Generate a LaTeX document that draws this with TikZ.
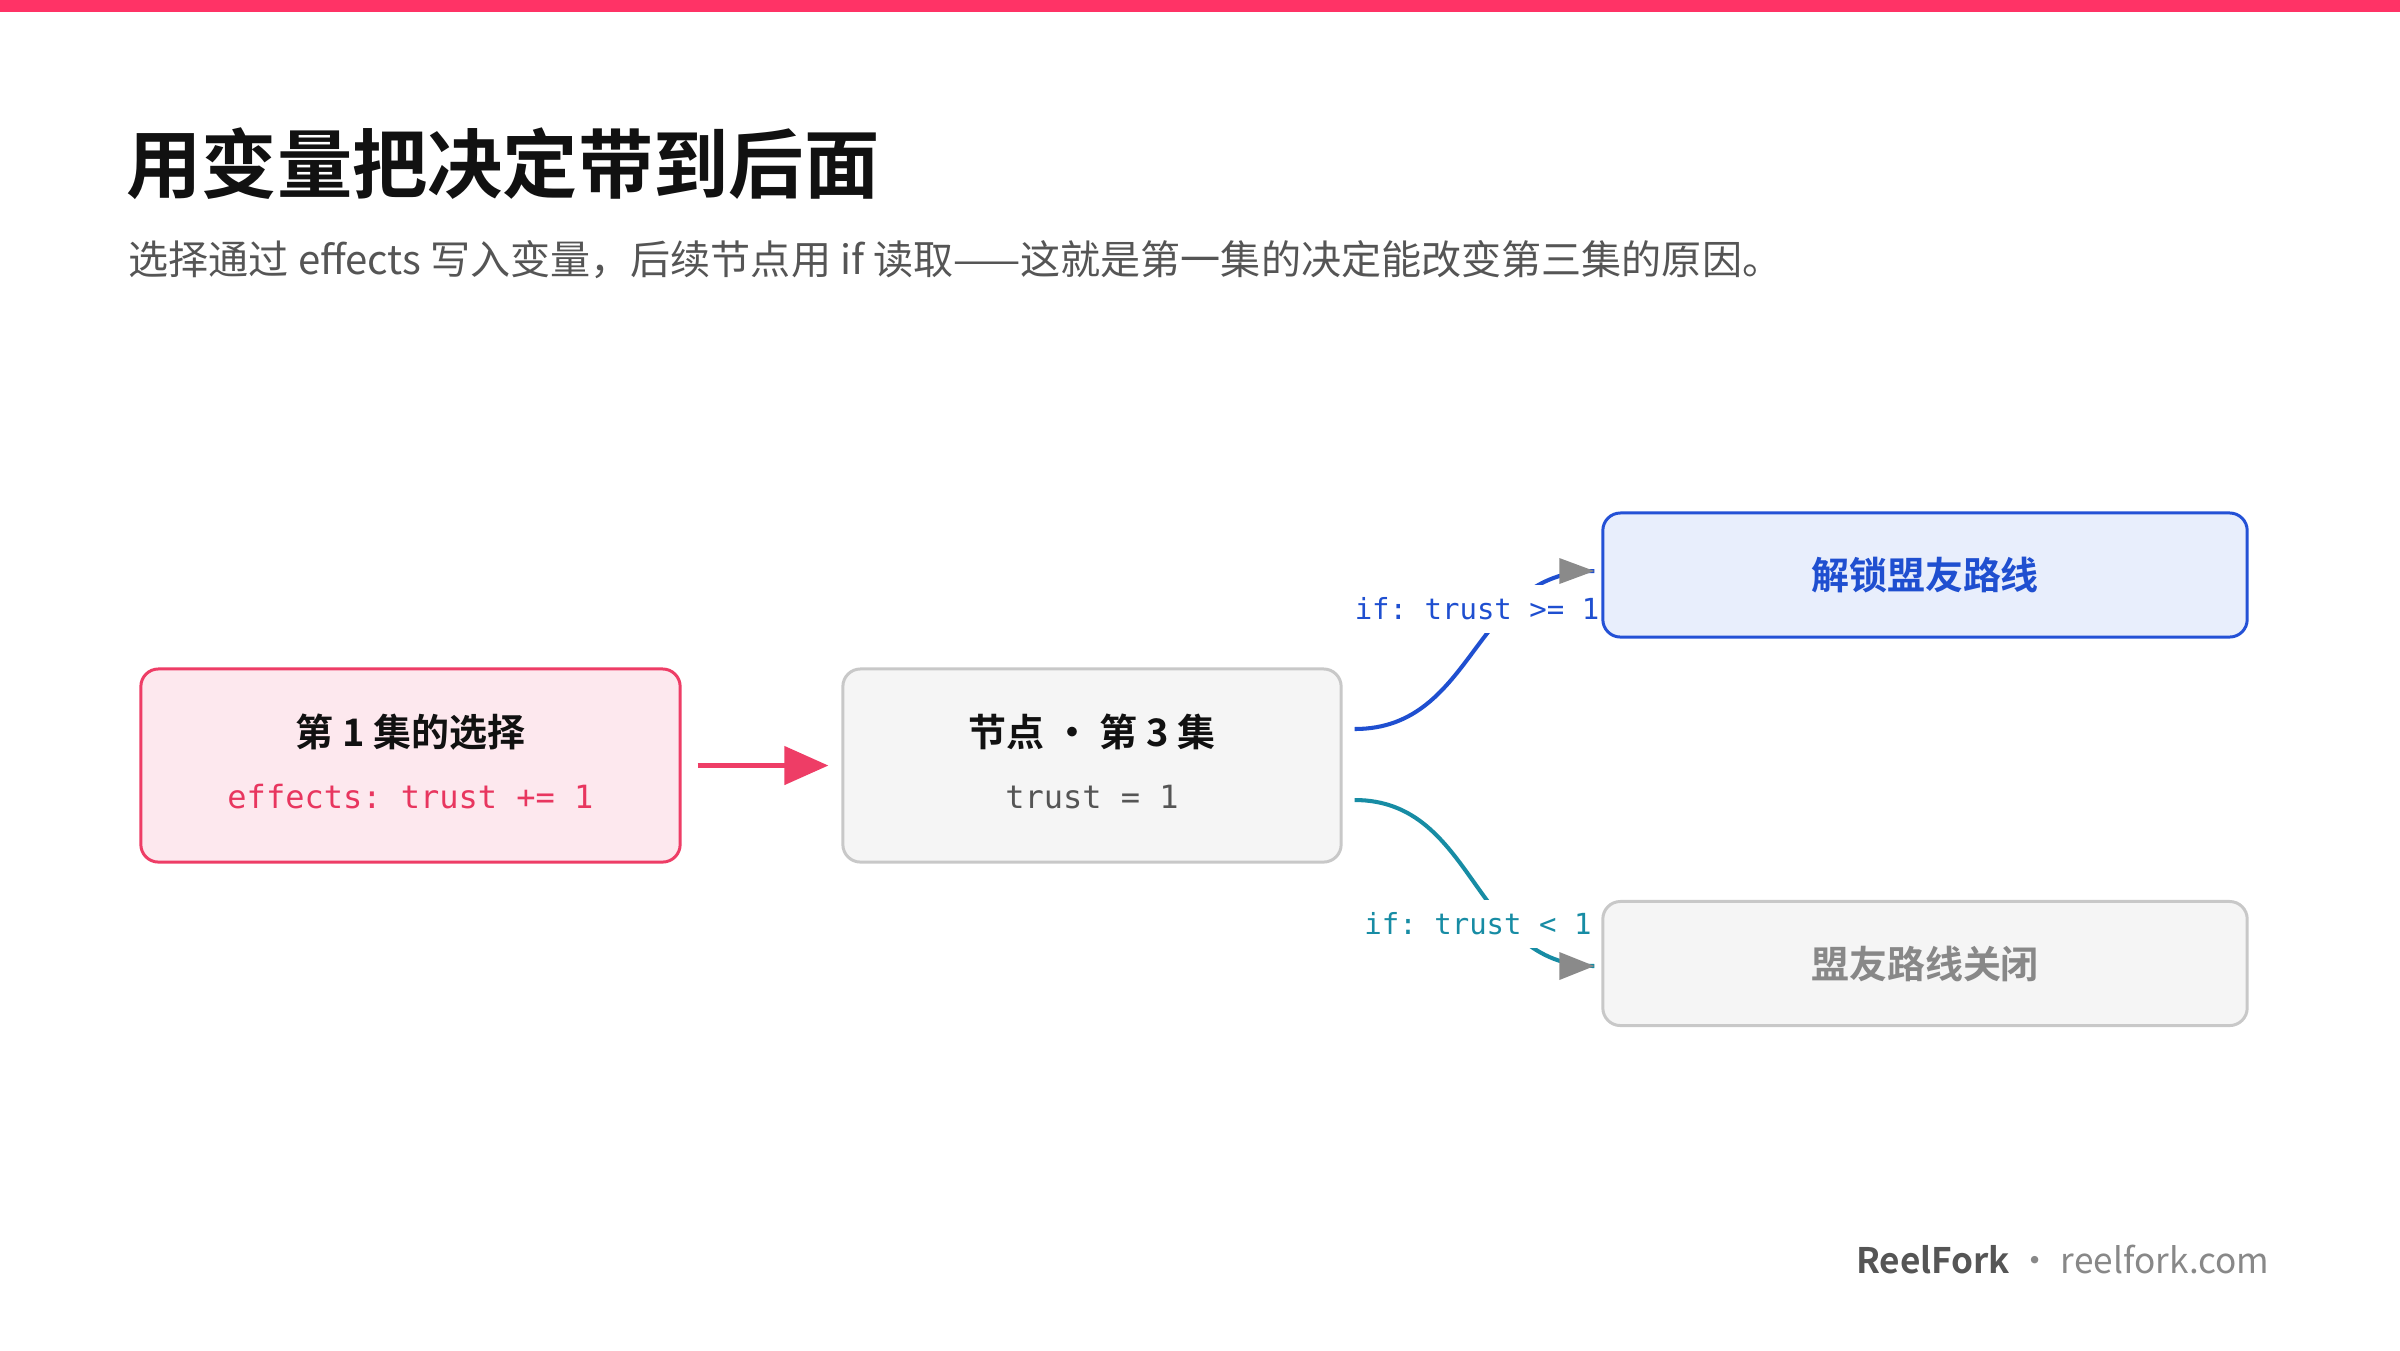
\documentclass[tikz,border=0pt]{standalone}
\usepackage{fontspec}
\setmainfont{Noto Sans CJK SC}[BoldFont={Noto Sans CJK SC Bold}]
\setmonofont{DejaVu Sans Mono}
\usetikzlibrary{arrows.meta,calc}
\definecolor{topbar}{HTML}{FF3366}
\definecolor{titlecol}{HTML}{111111}
\definecolor{subcol}{HTML}{555555}
\definecolor{pinkfill}{HTML}{FDE8EE}
\definecolor{pinkline}{HTML}{EE3D66}
\definecolor{pinktext}{HTML}{E8365F}
\definecolor{grayfill}{HTML}{F5F5F5}
\definecolor{grayline}{HTML}{C8C8C8}
\definecolor{bluefill}{HTML}{E8EEFC}
\definecolor{blueline}{HTML}{2451D6}
\definecolor{bluetext}{HTML}{1F4FD0}
\definecolor{tealcol}{HTML}{178CA4}
\definecolor{arrowgray}{HTML}{8A8A8A}
\definecolor{mutedtext}{HTML}{888888}
\pgfdeclarelayer{bglayer}
\pgfdeclarelayer{curvelayer}
\pgfdeclarelayer{labellayer}
\pgfsetlayers{bglayer,curvelayer,labellayer,main}
\tikzset{
  basebox/.style={rounded corners=5pt, line width=0.85pt, inner sep=0pt},
  pinkbox/.style={basebox, draw=pinkline, fill=pinkfill, minimum width=5.39cm, minimum height=1.93cm},
  graybox/.style={basebox, draw=grayline, fill=grayfill, minimum width=4.98cm, minimum height=1.93cm},
  bluebox/.style={basebox, draw=blueline, fill=bluefill, minimum width=6.44cm, minimum height=1.24cm},
  offbox/.style={basebox, draw=grayline, fill=grayfill, minimum width=6.44cm, minimum height=1.24cm},
  boxtitle/.style={inner sep=0pt, font=\fontsize{10.8pt}{13pt}\selectfont\bfseries, text=titlecol},
  codetext/.style={inner sep=0pt, font=\fontsize{9.1pt}{11pt}\selectfont\ttfamily},
  condlabel/.style={fill=white, inner xsep=3pt, inner ysep=0.13cm, font=\fontsize{8.25pt}{10pt}\selectfont\ttfamily},
  curveline/.style={line width=1.15pt},
  graytip/.style={fill=arrowgray},
}
\begin{document}
\begin{tikzpicture}[x=0.01cm, y=-0.01cm]
\begin{pgfonlayer}{bglayer}
\path[use as bounding box, fill=white] (0,0) rectangle (2400,1350);
\end{pgfonlayer}
\fill[topbar] (0,0) rectangle (2400,12);

\node[anchor=base west, inner sep=0pt, text=titlecol, font=\fontsize{21.4pt}{26pt}\selectfont\bfseries] (title) at (126,192) {用变量把决定带到后面};
\node[anchor=base west, inner sep=0pt, text=subcol, font=\fontsize{11.4pt}{14pt}\selectfont] (subtitle) at (128,274) {选择通过 effects 写入变量，后续节点用 if 读取——这就是第一集的决定能改变第三集的原因。};

% boxes
\node[pinkbox] (c1) at (410.5,765.5) {};
\node[boxtitle] (c1t) at ($(c1)+(0,-33.5)$) {第 1 集的选择};
\node[codetext, text=pinktext] (c1c) at ($(c1)+(0,31.5)$) {effects: trust += 1};

\node[graybox] (c2) at (1092,765.5) {};
\node[boxtitle] (c2t) at ($(c2)+(0,-33.5)$) {节点 · 第 3 集};
\node[codetext, text=subcol] (c2c) at ($(c2)+(0,31.5)$) {trust = 1};

\node[bluebox] (c3) at (1925,575) {};
\node[boxtitle, text=bluetext] (c3t) at (c3) {解锁盟友路线};

\node[offbox] (c4) at (1925,963.5) {};
\node[boxtitle, text=mutedtext] (c4t) at (c4) {盟友路线关闭};

% pink arrow
\draw[pinkline, line width=1.3pt, shorten <=0.16cm, shorten >=0.13cm, -{Triangle[length=0.44cm, width=0.38cm]}] (c1) -- (c2);

% branch curves
\coordinate (p1s) at ($(c2.east)+(12,-36.5)$);
\coordinate (p1e) at ($(c3.west)+(-7,-4)$);
\coordinate (p2s) at ($(c2.east)+(12,34.5)$);
\coordinate (p2e) at ($(c4.west)+(-7,2.5)$);
\begin{pgfonlayer}{curvelayer}
\draw[curveline, bluetext] (p1s) .. controls +(122,0) and +(-122,0) .. (p1e);
\draw[curveline, tealcol] (p2s) .. controls +(122,0) and +(-122,0) .. (p2e);
\fill[graytip] (p1e) -- ++(-35,-13) -- ++(0,26) -- cycle;
\fill[graytip] (p2e) -- ++(-35,-14) -- ++(0,28) -- cycle;
\end{pgfonlayer}
\begin{pgfonlayer}{labellayer}
\node[condlabel, text=bluetext] (l1) at (1477,609) {if: trust >= 1};
\node[condlabel, text=tealcol] (l2) at (1478,924) {if: trust < 1};
\end{pgfonlayer}

% footer
\node[anchor=base east, inner sep=0pt, font=\fontsize{10pt}{13pt}\selectfont] (footer) at (2270,1273) {{\bfseries\color{subcol}ReelFork} {\color{mutedtext}· reelfork.com}};
\end{tikzpicture}
\end{document}
